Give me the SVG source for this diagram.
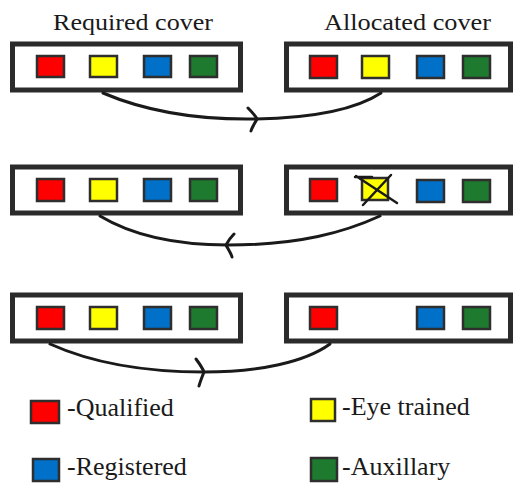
<svg xmlns="http://www.w3.org/2000/svg" width="514" height="484" viewBox="0 0 514 484">
<style>
text{font-family:'Liberation Serif',serif !important;fill:#1a1a1a}
.box{fill:#fff;stroke:#2b2b2b;stroke-width:5}
.sq{stroke:#2e2e2e;stroke-width:2.5}
.r{fill:#ff0000}.y{fill:#ffff00}.b{fill:#0070c8}.g{fill:#1e7a2e}
.c{fill:none;stroke:#1a1a1a;stroke-width:3;stroke-linecap:round;stroke-linejoin:round}
</style>
<rect width="514" height="484" fill="#fff"/>
<text x="53" y="30" font-family="Liberation Serif" font-size="24" textLength="160" lengthAdjust="spacingAndGlyphs">Required cover</text>
<text x="324" y="30" font-family="Liberation Serif" font-size="24" textLength="167" lengthAdjust="spacingAndGlyphs">Allocated cover</text>

<g id="req1">
<rect class="box" x="12.5" y="44" width="228" height="46"/>
<rect class="sq r" x="37" y="56" width="27" height="21"/>
<rect class="sq y" x="90" y="56" width="27" height="21"/>
<rect class="sq b" x="144" y="56" width="27" height="21"/>
<rect class="sq g" x="190" y="56" width="27" height="21"/>
</g>
<g id="alloc1">
<rect class="box" x="286.5" y="44" width="224" height="46"/>
<rect class="sq r" x="310" y="56" width="27" height="22"/>
<rect class="sq y" x="362" y="56" width="27" height="22"/>
<rect class="sq b" x="417" y="56" width="27" height="22"/>
<rect class="sq g" x="463" y="56" width="27" height="22"/>
</g>
<g id="req2">
<rect class="box" x="12.5" y="167" width="228" height="46"/>
<rect class="sq r" x="37" y="179" width="27" height="22"/>
<rect class="sq y" x="90" y="179" width="27" height="22"/>
<rect class="sq b" x="144" y="179" width="27" height="22"/>
<rect class="sq g" x="190" y="179" width="27" height="22"/>
</g>
<g id="alloc2">
<rect class="box" x="286.5" y="167" width="224" height="46"/>
<rect class="sq r" x="310" y="179" width="27" height="22"/>
<rect class="sq y" x="362" y="178" width="26" height="22"/>
<path d="M356,176 L397,203 M391,175 L363,205 M355,177 L372,177" fill="none" stroke="#1a1a1a" stroke-width="2.5" stroke-linecap="round"/>
<rect class="sq b" x="417" y="180" width="27" height="22"/>
<rect class="sq g" x="463" y="180" width="27" height="22"/>
</g>
<g id="req3">
<rect class="box" x="12.5" y="295" width="228" height="46"/>
<rect class="sq r" x="37" y="307" width="27" height="22"/>
<rect class="sq y" x="90" y="307" width="27" height="22"/>
<rect class="sq b" x="144" y="307" width="27" height="22"/>
<rect class="sq g" x="190" y="307" width="27" height="22"/>
</g>
<g id="alloc3">
<rect class="box" x="286.5" y="295" width="224" height="46"/>
<rect class="sq r" x="310" y="307" width="27" height="22"/>
<rect class="sq b" x="417" y="307" width="27" height="22"/>
<rect class="sq g" x="463" y="307" width="27" height="22"/>
</g>

<g id="connectors">
<path class="c" d="M103,93 C150,113 200,120 256,119 C310,118 355,110 381,93"/>
<path class="c" d="M248,108 C252,112 255,115 257,119 C255,123 252,127 251,131"/>
<path class="c" d="M380,216 C345,232 300,245 228,245 C170,245 130,234 100,216"/>
<path class="c" d="M234,234 C231,237 228,241 226,245 C228,249 231,253 232,257"/>
<path class="c" d="M50,344 C90,362 140,372 204,372 C260,372 305,362 330,344"/>
<path class="c" d="M196,359 C199,363 202,367 204,372 C202,377 200,382 199,386"/>
</g>

<g id="legend">
<rect class="sq r" x="31" y="401" width="28" height="22"/>
<text x="67" y="416" font-family="Liberation Serif" font-size="26">-Qualified</text>
<rect class="sq y" x="311" y="399" width="24" height="22"/>
<text x="342" y="415" font-family="Liberation Serif" font-size="26">-Eye trained</text>
<rect class="sq b" x="33" y="459" width="26" height="22"/>
<text x="67" y="475" font-family="Liberation Serif" font-size="26">-Registered</text>
<rect class="sq g" x="311" y="458" width="26" height="23"/>
<text x="342" y="475" font-family="Liberation Serif" font-size="26">-Auxillary</text>
</g>
</svg>
